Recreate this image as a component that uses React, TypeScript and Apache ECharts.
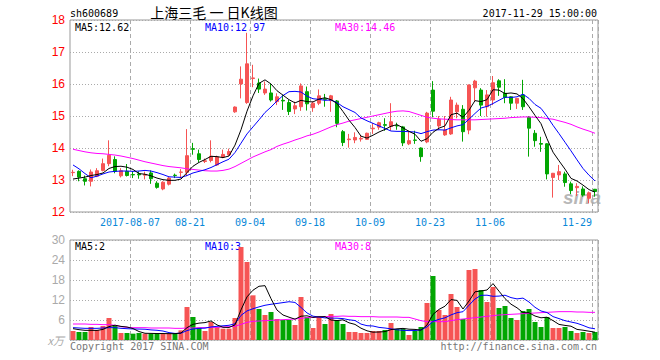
import React, { useEffect, useRef } from 'react';
import * as echarts from 'echarts';

// ---- price data (daily K) ----
const opens = [13.23,13.27,13.04,12.96,13.12,13.30,13.51,13.64,13.13,13.27, 13.17,13.19,13.15,13.22,12.90,12.72,12.87,13.15,13.24,13.24, 13.98,13.82,13.58,13.61,13.47,13.72,13.79,15.13,16.00,15.42, 16.17,16.03,15.72,15.72,15.45,15.49,15.42,15.22,15.29,15.76, 15.26,15.40,15.54,15.48,15.47,14.51,14.26,14.25,14.28,14.27, 14.60,14.65,14.73,14.67,14.70,14.66,14.13,14.25,14.00,14.19, 15.81,14.69,14.41,14.44,15.13,15.21,14.56,15.88,15.81,15.29, 15.50,16.10,15.71,15.60,15.40,15.66,14.96,14.46,14.14,14.13, 13.08,13.16,13.19,12.88,12.76,12.72,12.43,12.71];
const closes = [13.24,13.09,12.96,13.25,13.29,13.51,13.77,13.27,13.29,13.14, 13.16,13.16,13.17,13.04,12.77,12.93,13.06,13.14,13.25,13.76, 13.96,13.64,13.60,13.74,13.72,13.80,13.89,15.28,16.15,16.63, 16.19,15.84,15.84,15.50,15.60,15.47,15.14,15.32,15.94,15.38, 15.40,15.63,15.52,15.63,14.77,14.17,14.28,14.33,14.30,14.46, 14.62,14.79,14.71,14.82,14.69,14.16,14.23,14.24,13.73,15.09, 15.15,14.90,14.56,15.50,15.34,14.51,15.97,16.09,15.34,15.66, 16.04,15.90,15.58,15.40,15.55,15.29,14.62,14.23,14.12,13.19, 13.21,13.26,12.92,12.67,12.80,12.53,12.60,12.64];
const highs = [13.32,13.30,13.14,13.33,13.37,13.67,14.24,13.74,13.37,13.50, 13.28,13.27,13.26,13.30,12.96,12.96,13.09,13.20,13.34,14.59, 14.16,13.95,13.67,14.24,13.76,13.95,13.98,15.30,16.55,17.60, 16.60,16.17,16.08,16.00,15.71,15.66,15.50,15.45,16.02,15.92, 15.45,15.83,15.69,15.66,15.50,14.56,14.44,14.49,14.40,14.48, 14.78,14.82,14.93,15.40,14.79,14.69,14.54,14.54,14.02,15.13, 16.09,15.00,15.00,15.60,15.42,15.34,15.98,16.13,15.87,15.81, 16.25,16.15,16.15,15.62,15.56,16.13,15.00,14.56,14.35,14.15, 13.22,13.47,13.26,12.95,12.90,12.80,12.64,12.72];
const lows = [13.12,12.96,12.83,12.80,13.09,13.27,13.43,13.21,13.08,13.11, 13.06,13.04,13.02,12.88,12.73,12.68,12.83,13.06,13.06,13.12, 13.79,13.55,13.53,13.55,13.44,13.68,13.76,15.10,15.55,15.38, 15.90,15.72,15.66,15.45,15.34,15.19,15.03,15.06,15.16,15.17, 15.13,15.34,15.29,15.13,14.65,14.06,14.01,14.15,14.20,14.25, 14.44,14.57,14.54,14.54,14.57,14.06,14.09,14.13,13.57,14.15, 14.96,14.56,14.38,14.41,14.93,14.20,14.43,15.45,15.00,14.98, 15.34,15.63,15.40,15.19,15.22,15.19,13.73,14.04,13.88,13.02, 12.45,13.00,12.79,12.56,12.50,12.48,12.27,12.48];

const ma5 = [13.03,13.06,13.09,13.14,13.17,13.22,13.36,13.42,13.43,13.40, 13.33,13.20,13.18,13.13,13.06,13.01,12.99,12.99,13.03,13.23, 13.43,13.55,13.64,13.74,13.73,13.70,13.75,14.09,14.57,15.15, 15.63,16.02,16.13,16.00,15.79,15.65,15.51,15.41,15.49,15.45, 15.44,15.53,15.57,15.51,15.39,15.14,14.87,14.64,14.37,14.31, 14.40,14.50,14.58,14.68,14.73,14.63,14.52,14.43,14.21,14.29, 14.49,14.62,14.69,15.04,15.09,14.96,15.18,15.48,15.45,15.51, 15.82,15.81,15.70,15.72,15.69,15.54,15.29,15.02,14.76,14.29, 13.87,13.60,13.34,13.05,12.97,12.84,12.70,12.62];
const ma10 = [13.47,13.35,13.20,13.07,13.12,13.19,13.25,13.27,13.28,13.28, 13.27,13.28,13.30,13.28,13.23,13.17,13.10,13.09,13.08,13.14, 13.22,13.27,13.32,13.39,13.48,13.57,13.65,13.86,14.15,14.44, 14.66,14.88,15.11,15.28,15.47,15.64,15.76,15.77,15.75,15.62, 15.54,15.52,15.49,15.50,15.42,15.29,15.20,15.11,14.94,14.85, 14.77,14.69,14.61,14.53,14.52,14.52,14.51,14.50,14.45,14.51, 14.56,14.57,14.56,14.63,14.69,14.73,14.90,15.08,15.25,15.30, 15.39,15.49,15.59,15.58,15.60,15.68,15.55,15.36,15.24,14.99, 14.71,14.45,14.18,13.91,13.63,13.36,13.15,12.97];
const ma30 = [13.96,13.92,13.88,13.85,13.83,13.82,13.80,13.78,13.75,13.71, 13.67,13.62,13.57,13.53,13.49,13.45,13.42,13.40,13.38,13.35, 13.33,13.31,13.29,13.28,13.28,13.30,13.34,13.42,13.52,13.62, 13.72,13.80,13.88,13.95,14.05,14.12,14.18,14.25,14.31,14.38, 14.43,14.50,14.58,14.66,14.73,14.78,14.84,14.88,14.92,14.96, 15.00,15.04,15.08,15.12,15.15,15.16,15.14,15.08,15.02,14.96, 14.93,14.91,14.90,14.89,14.88,14.88,14.88,14.88,14.89,14.90, 14.91,14.92,14.93,14.95,14.96,14.97,14.97,14.96,14.95,14.92, 14.90,14.85,14.80,14.74,14.66,14.59,14.53,14.46];

// ---- volume data (x万) ----
const volumes = [2.7,2.4,2.4,3.9,3.0,4.2,6.6,4.5,2.1,2.1, 1.9,2.1,1.9,1.9,1.9,1.9,1.9,1.9,2.9,9.9, 6.9,3.7,2.7,5.4,3.9,3.4,3.4,6.6,27.9,23.4, 13.4,9.3,7.5,8.4,6.3,6.0,6.0,4.5,12.9,6.9, 3.6,6.9,4.8,7.8,6.0,4.8,2.4,2.4,2.1,2.1, 2.7,2.7,3.0,5.1,3.3,3.3,1.5,2.7,3.9,11.1, 19.2,9.0,7.5,13.8,9.9,6.3,21.0,21.3,15.0,11.4, 15.9,9.6,10.2,6.6,6.0,8.7,9.3,5.4,3.9,6.9, 3.6,3.6,3.9,2.7,2.1,2.4,2.1,2.4];
const vMa5 = [3.4,3.1,2.9,2.9,2.88,3.18,4.02,4.44,4.08,3.90, 3.44,2.54,2.02,1.98,1.94,1.94,1.90,1.90,2.10,3.70, 4.70,5.06,5.22,5.72,4.52,3.82,3.76,4.54,9.04,12.94, 14.94,16.12,16.30,12.40,8.98,7.50,6.84,6.24,7.14,7.26, 6.78,6.96,7.02,6.00,5.82,6.06,5.16,4.68,3.54,2.76, 2.34,2.40,2.52,3.12,3.36,3.48,3.24,3.18,2.94,4.50, 7.68,9.18,10.14,12.12,11.88,9.30,11.70,14.46,14.70,15.00, 16.92,14.64,12.42,10.74,9.66,8.22,8.16,7.20,6.66,6.84, 5.82,4.68,4.38,4.14,3.18,2.94,2.64,2.34];
const vMa10 = [3.7,3.6,3.5,3.5,3.5,3.6,3.7,3.7,3.5,3.39, 3.31,3.28,3.23,3.03,2.92,2.69,2.22,1.96,2.04,2.82, 3.32,3.48,3.56,3.91,4.11,4.26,4.41,4.88,7.38,8.73, 9.38,9.94,10.42,10.72,10.96,11.22,11.48,11.27,9.77,8.12, 7.14,6.90,6.63,6.57,6.54,6.42,6.06,5.85,4.77,4.29, 4.20,3.78,3.60,3.33,3.06,2.91,2.82,2.85,3.03,3.93, 5.58,6.21,6.66,7.53,8.19,8.49,10.44,12.30,13.41,13.44, 13.11,13.17,13.44,12.72,12.33,12.57,11.40,9.81,8.70,8.25, 7.02,6.42,5.79,5.40,5.01,4.38,3.66,3.36];
const vMa30 = [4.8,4.8,4.8,4.7,4.7,4.6,4.6,4.4,4.0,3.8, 3.7,3.7,3.7,3.6,3.6,3.6,3.6,3.5,3.5,3.6, 3.6,3.7,3.7,3.8,3.8,3.9,4.0,4.1,4.7,5.3, 5.6,5.7,5.8,5.9,6.0,6.1,6.2,6.3,6.5,6.7, 6.8,6.9,7.0,7.1,7.1,7.2,7.1,7.1,7.0,7.0, 7.0,6.9,6.9,6.9,6.9,6.8,6.8,6.3,5.8,5.5, 5.5,5.5,5.5,5.8,6.1,6.3,6.5,6.7,6.9,7.1, 7.3,7.5,7.6,7.7,7.8,7.9,8.0,8.1,8.2,8.3, 8.4,8.5,8.5,8.5,8.4,8.4,8.3,8.3];

// ---- axis labels ----
const tickIndex = [10, 20, 30, 40, 50, 60, 70, 87];
const tickLabels = ['2017-08-07', '08-21', '09-04', '09-18', '10-09', '10-23', '11-06', '11-29'];
const priceLegend = ['MA5:12.62', 'MA10:12.97', 'MA30:14.46'];
const volLegend = ['MA5:2', 'MA10:3', 'MA30:8'];

const UP = '#f65454';
const DOWN = '#02a602';
const MONO = '"DejaVu Sans Mono", "Liberation Mono", monospace';
const GRIDLINE = '#aaaaaa';

export default function App() {
  const ref = useRef<HTMLDivElement>(null);

  useEffect(() => {
    if (!ref.current) return;
    const chart = echarts.init(ref.current, null, { renderer: 'svg' });
    const cats = closes.map((_, i) => String(i));
    const candle = closes.map((c, i) => [opens[i], c, lows[i], highs[i]]);
    const volData = volumes.map((v, i) => ({
      value: v,
      itemStyle: { color: closes[i] >= opens[i] ? UP : DOWN },
    }));
    const isTick = (idx: number) => tickIndex.indexOf(idx) >= 0;
    const labelRich = {
      m: { color: '#0a88d8', fontSize: 10, fontFamily: MONO, padding: [0, 6, 0, 0] },
      e: { color: '#0a88d8', fontSize: 10, fontFamily: MONO, padding: [0, 36, 0, 0] },
    };
    const splitV = { show: true, interval: (idx: number) => isTick(idx), lineStyle: { color: GRIDLINE, type: [4, 3], width: 1 } };
    const lineSeries = (data: number[], color: string, axis: number) => ({
      type: 'line', data, xAxisIndex: axis, yAxisIndex: axis, symbol: 'none', showSymbol: false,
      silent: true, lineStyle: { color, width: 1 }, itemStyle: { color },
    });
    const txt = (text: string, x: number, y: number, fill: string, align = 'left', extra: any = {}) => ({
      type: 'text', x, y, silent: true,
      style: { text, fill, align, verticalAlign: 'middle', fontSize: 10, lineHeight: 11, fontFamily: MONO, ...extra },
    });

    chart.setOption({
      animation: false,
      backgroundColor: '#ffffff',
      grid: [
        { left: 70, right: 62, top: 20, height: 192, show: true, borderColor: '#999', borderWidth: 1, backgroundColor: 'transparent' },
        { left: 70, right: 62, top: 240, height: 100, show: true, borderColor: '#999', borderWidth: 1, backgroundColor: 'transparent' },
      ],
      xAxis: [
        {
          type: 'category', gridIndex: 0, data: cats, boundaryGap: true,
          axisLine: { show: false }, axisTick: { show: false },
          axisLabel: {
            interval: 0, margin: 5,
            formatter: (_v: string, idx: number) => {
              const k = tickIndex.indexOf(idx);
              if (k < 0) return '';
              return k === tickIndex.length - 1 ? `{e|${tickLabels[k]}}` : `{m|${tickLabels[k]}}`;
            },
            rich: labelRich,
          },
          splitLine: splitV,
        },
        {
          type: 'category', gridIndex: 1, data: cats, boundaryGap: true,
          axisLine: { show: false }, axisTick: { show: false }, axisLabel: { show: false },
          splitLine: splitV,
        },
      ],
      yAxis: [
        {
          type: 'value', gridIndex: 0, min: 12, max: 18, interval: 1,
          axisLine: { show: false }, axisTick: { show: false },
          axisLabel: { color: '#ff0000', fontSize: 12, fontFamily: 'Liberation Sans, Arial, sans-serif', margin: 5 },
          splitLine: { show: true, lineStyle: { color: GRIDLINE, type: [1, 2], width: 1 } },
        },
        {
          type: 'value', gridIndex: 1, min: 0, max: 30, interval: 6,
          axisLine: { show: false }, axisTick: { show: false },
          axisLabel: {
            color: '#aaaaaa', fontSize: 12, fontFamily: 'Liberation Sans, Arial, sans-serif', margin: 5,
            formatter: (v: number) => (v === 0 ? '' : String(v)),
          },
          splitLine: { show: true, lineStyle: { color: GRIDLINE, type: [1, 2], width: 1 } },
        },
      ],
      series: [
        {
          type: 'candlestick', xAxisIndex: 0, yAxisIndex: 0, data: candle, barWidth: 4, silent: true,
          itemStyle: { color: UP, color0: DOWN, borderColor: UP, borderColor0: DOWN, borderWidth: 1 },
        },
        lineSeries(ma30, '#ff00ff', 0),
        lineSeries(ma10, '#0000ff', 0),
        lineSeries(ma5, '#000000', 0),
        { type: 'bar', xAxisIndex: 1, yAxisIndex: 1, data: volData, barWidth: 5, silent: true },
        lineSeries(vMa30, '#ff00ff', 1),
        lineSeries(vMa10, '#0000ff', 1),
        lineSeries(vMa5, '#000000', 1),
      ],
      graphic: [
        txt('sh600689', 70, 13, '#000'),
        txt('上海三毛 一 日K线图', 214, 12, '#000', 'center', { fontSize: 14, lineHeight: 14, fontFamily: '"Noto Sans CJK SC", sans-serif' }),
        txt('2017-11-29 15:00:00', 597, 13, '#000', 'right'),
        txt(priceLegend[0], 75, 27, '#000000'),
        txt(priceLegend[1], 205, 27, '#0000ff'),
        txt(priceLegend[2], 335, 27, '#ff00ff'),
        txt(volLegend[0], 75, 246, '#000000'),
        txt(volLegend[1], 205, 246, '#0000ff'),
        txt(volLegend[2], 335, 246, '#ff00ff'),
        txt('x万', 64, 340, '#aaaaaa', 'right', { fontSize: 11, lineHeight: 12, fontStyle: 'italic', fontFamily: '"Noto Sans CJK SC", sans-serif' }),
        txt('Copyright 2017 SINA.COM', 70, 346, '#777777'),
        txt('http://finance.sina.com.cn', 597, 346, '#777777', 'right'),
        txt('sina', 563, 197, 'rgba(160,160,160,0.75)', 'left', { fontSize: 19, lineHeight: 20, fontStyle: 'italic', fontWeight: 'bold', fontFamily: 'Liberation Sans, Arial, sans-serif' }),
      ],
    });
    return () => chart.dispose();
  }, []);

  return <div ref={ref} style={{ position: 'fixed', left: 0, top: 0, width: 660, height: 360, background: '#fff' }} />;
}
